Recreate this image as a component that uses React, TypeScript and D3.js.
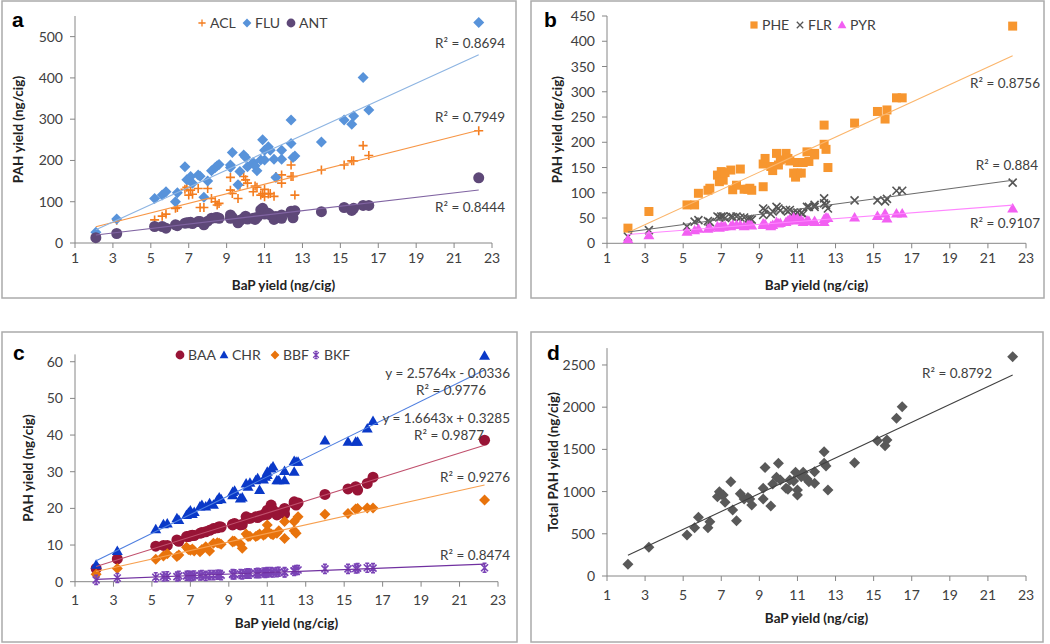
import React from 'react';
import * as d3 from 'd3';

// BaP yield per cigarette brand (shared x values)
const bap = [2.1, 3.2, 5.2, 5.6, 5.8, 6.3, 6.4, 6.8, 6.9, 7.0, 7.1, 7.2, 7.5, 7.6, 7.8, 8.0, 8.2, 8.4, 8.5, 8.6,
  9.2, 9.2, 9.3, 9.6, 9.7, 9.9, 10.0, 10.1, 10.4, 10.5, 10.6, 10.8, 10.9, 11.0, 11.0, 11.2, 11.3, 11.5, 11.6, 11.9,
  11.9, 12.4, 12.4, 12.5, 12.6, 14.0, 15.2, 15.6, 15.7, 16.2, 16.5, 22.3];

// panel a
const acl = [18, 55, 56, 65, 70, 84, 86, 130, 135, 116, 128, 118, 132, 86, 86, 132, 108, 100, 92, 96,
  159, 128, 120, 108, 140, 161, 153, 145, 124, 138, 135, 116, 120, 130, 112, 119, 120, 113, 161, 145,
  165, 189, 161, 161, 116, 177, 189, 199, 199, 236, 212, 272];
const flu = [26, 58, 108, 116, 124, 100, 122, 185, 153, 154, 161, 145, 165, 162, 111, 150, 175, 183, 187, 190,
  183, 189, 219, 141, 173, 213, 208, 185, 195, 187, 175, 201, 250, 225, 201, 233, 225, 203, 159, 203,
  225, 298, 241, 207, 211, 245, 298, 288, 308, 401, 322, 534];
const ant = [13, 23, 40, 40, 36, 44, 42, 48, 49, 49, 50, 47, 52, 52, 44, 53, 60, 61, 62, 60,
  68, 60, 62, 49, 55, 60, 65, 58, 60, 57, 62, 80, 84, 76, 70, 72, 68, 57, 64, 68,
  60, 77, 72, 61, 78, 76, 86, 79, 84, 91, 91, 158];

// panel b
const phe = [30, 63, 76, 76, 99, 105, 109, 135, 122, 142, 125, 140, 145, 106, 115, 147, 107, 107, 109, 105,
  157, 112, 168, 152, 144, 178, 155, 165, 178, 168, 163, 139, 131, 139, 160, 139, 160, 181, 162, 178,
  175, 234, 196, 186, 150, 238, 261, 246, 264, 288, 288, 430];
const flr = [13, 26, 33, 43, 46, 44, 42, 53, 51, 53, 53, 50, 53, 52, 53, 51, 51, 48, 48, 47,
  56, 69, 66, 58, 63, 72, 69, 65, 66, 63, 66, 61, 57, 60, 61, 60, 58, 72, 72, 76,
  72, 89, 79, 76, 69, 85, 85, 83, 88, 104, 104, 120];
const pyr = [8, 16, 23, 26, 29, 29, 31, 34, 31, 34, 33, 34, 34, 36, 36, 36, 34, 36, 36, 35,
  36, 39, 38, 34, 36, 42, 39, 40, 42, 45, 48, 51, 45, 48, 49, 46, 42, 45, 44, 42,
  44, 42, 48, 51, 50, 51, 54, 59, 49, 59, 59, 69];

// panel c
const baa = [3.6, 6.2, 9.7, 9.9, 9.9, 11.4, 11.0, 12.3, 12.3, 12.5, 12.7, 12.6, 13.2, 13.4, 13.6, 14.0, 14.5, 14.7, 15.0, 14.9,
  15.5, 15.7, 15.9, 15.5, 15.6, 17.7, 17.3, 17.3, 17.7, 17.5, 17.9, 18.2, 18.6, 19.5, 18.3, 20.9, 19.5, 18.2, 18.8, 20.0,
  18.5, 21.8, 21.4, 20.9, 21.5, 23.8, 25.3, 25.9, 25.0, 26.8, 28.5, 38.6];
const chr = [4.6, 8.4, 14.3, 15.7, 15.9, 17.3, 16.8, 18.2, 18.8, 19.4, 18.5, 19.0, 20.5, 20.9, 20.5, 21.4, 21.0, 22.3, 23.0, 22.5,
  24.5, 23.6, 24.8, 22.7, 23.0, 26.8, 25.9, 27.0, 27.7, 28.2, 25.0, 27.9, 28.6, 29.1, 30.0, 30.9, 31.4, 27.7, 27.7, 30.2,
  27.7, 32.9, 30.0, 32.7, 32.7, 38.5, 38.2, 38.2, 38.2, 41.8, 43.8, 61.6];
const bbf = [2.0, 3.6, 6.1, 7.0, 7.6, 6.9, 7.3, 9.4, 8.8, 8.6, 8.9, 8.4, 8.2, 8.8, 9.5, 8.4, 10.5, 10.6, 10.5, 10.2,
  11.1, 10.8, 11.0, 10.3, 9.1, 13.0, 12.3, 12.4, 12.3, 12.6, 13.0, 12.7, 13.0, 15.5, 13.9, 13.0, 12.8, 13.2, 13.9, 16.4,
  11.8, 16.4, 13.9, 13.2, 17.7, 18.4, 18.6, 19.8, 20.0, 20.1, 20.1, 22.3];
const bkf = [0.5, 1.0, 1.2, 1.4, 1.5, 1.4, 1.6, 1.6, 1.7, 1.5, 1.6, 1.7, 1.7, 1.8, 1.6, 1.8, 1.8, 1.9, 1.9, 1.8,
  2.0, 2.1, 2.0, 2.1, 2.0, 2.2, 2.3, 2.2, 2.3, 2.4, 2.3, 2.5, 2.4, 2.6, 2.5, 2.6, 2.5, 2.6, 2.7, 2.5,
  2.6, 2.9, 3.0, 3.2, 3.2, 3.5, 3.5, 3.6, 3.7, 3.8, 3.7, 3.8];

// panel d
const total = [139, 340, 486, 573, 696, 573, 644, 940, 999, 965, 960, 873, 1118, 782, 655, 975, 912, 930, 912, 841,
  1039, 912, 1284, 830, 1090, 1170, 1335, 1138, 1039, 1027, 1138, 1126, 1229, 1019, 960, 1177, 1229, 1150, 1118, 1236,
  1098, 1473, 1335, 1303, 1019, 1343, 1603, 1544, 1611, 1869, 2006, 2599];

const xTicks = [1, 3, 5, 7, 9, 11, 13, 15, 17, 19, 21, 23];
const yTicksA = [0, 100, 200, 300, 400, 500];
const yTicksB = [0, 50, 100, 150, 200, 250, 300, 350, 400, 450];
const yTicksC = [0, 10, 20, 30, 40, 50, 60];
const yTicksD = [0, 500, 1000, 1500, 2000, 2500];

const font = "Lato, 'Open Sans', sans-serif";
const txt = '#404040';
const axisCol = '#868686';

const shapes: Record<string, string> = {
  plus: 'M-4.5,0H4.5M0,-4.5V4.5',
  cross: 'M-4,-4L4,4M-4,4L4,-4',
  star: 'M-3.5,-3.5L3.5,3.5M-3.5,3.5L3.5,-3.5M0,-4.5V4.5M-2,-4.5H2M-2,4.5H2',
  diamond: 'M0,-5.5L5.5,0L0,5.5L-5.5,0Z',
  square: 'M-4.5,-4.5H4.5V4.5H-4.5Z',
  triangle: 'M0,-5.5L5.5,4L-5.5,4Z',
};

function Marker({ shape, x, y, color }: any) {
  if (shape === 'circle') return <circle cx={x} cy={y} r={5.5} fill={color} />;
  const stroked = shape === 'plus' || shape === 'cross' || shape === 'star';
  return (
    <path d={shapes[shape]} transform={`translate(${x},${y})`}
      fill={stroked ? 'none' : color} stroke={stroked ? color : 'none'} strokeWidth={1.6} />
  );
}

function fit(xs: number[], ys: number[]) {
  const mx = d3.mean(xs)!, my = d3.mean(ys)!;
  let sxy = 0, sxx = 0;
  xs.forEach((v, i) => { sxy += (v - mx) * (ys[i] - my); sxx += (v - mx) ** 2; });
  const b = sxy / sxx;
  return (v: number) => my - b * mx + b * v;
}

const panels = [
  {
    letter: 'a', lx: 12, ly: 27, box: [2, 1, 514, 297],
    xr: [75, 492], yr: [243, 16], ydom: [0, 550], yTicks: yTicksA,
    xLabY: 263, xTitleY: 290, yTitleX: 18, yTitle: 'PAH yield (ng/cig)',
    series: [
      { name: 'ACL', ys: acl, shape: 'plus', color: '#f47d1f', line: '#f79646', lg: 202 },
      { name: 'FLU', ys: flu, shape: 'diamond', color: '#5893da', line: '#8db4e2', lg: 247 },
      { name: 'ANT', ys: ant, shape: 'circle', color: '#5e4878', line: '#8064a2', lg: 291 },
    ],
    legY: 23,
    notes: [['R² = 0.8694', 505, 48], ['R² = 0.7949', 505, 122], ['R² = 0.8444', 505, 212]],
  },
  {
    letter: 'b', lx: 544, ly: 27, box: [531, 1, 513, 297],
    xr: [607, 1026], yr: [243.3, 16], ydom: [0, 450], yTicks: yTicksB,
    xLabY: 263, xTitleY: 290, yTitleX: 557, yTitle: 'PAH yield (ng/cig)',
    series: [
      { name: 'PHE', ys: phe, shape: 'square', color: '#f7962f', line: '#fbb56b', lg: 754 },
      { name: 'FLR', ys: flr, shape: 'cross', color: '#555555', line: '#6b6b6b', lg: 800 },
      { name: 'PYR', ys: pyr, shape: 'triangle', color: '#f25ff2', line: '#ff86ff', lg: 842 },
    ],
    legY: 25,
    notes: [['R² = 0.8756', 1040, 88], ['R² = 0.884', 1038, 170], ['R² = 0.9107', 1040, 228]],
  },
  {
    letter: 'c', lx: 13, ly: 360, box: [2, 332, 515, 310],
    xr: [75, 498], yr: [581.7, 354.4], ydom: [0, 62], yTicks: yTicksC,
    xLabY: 605, xTitleY: 628, yTitleX: 28, yTitle: 'PAH yield (ng/cig)',
    series: [
      { name: 'BAA', ys: baa, shape: 'circle', color: '#981436', line: '#c0506d', lg: 180 },
      { name: 'CHR', ys: chr, shape: 'triangle', color: '#0a39c8', line: '#4f7fe0', lg: 224 },
      { name: 'BBF', ys: bbf, shape: 'diamond', color: '#e8730c', line: '#f7a050', lg: 275 },
      { name: 'BKF', ys: bkf, shape: 'star', color: '#7a43b6', line: '#7030a0', lg: 316 },
    ],
    legY: 355,
    notes: [['y = 2.5764x - 0.0336', 510, 378], ['R² = 0.9776', 486, 395], ['y = 1.6643x + 0.3285', 510, 423],
      ['R² = 0.9877', 484, 440], ['R² = 0.9276', 510, 482], ['R² = 0.8474', 510, 560]],
  },
  {
    letter: 'd', lx: 547, ly: 360, box: [531, 332, 512, 310],
    xr: [607, 1026], yr: [576, 348.1], ydom: [0, 2700], yTicks: yTicksD,
    xLabY: 600, xTitleY: 623, yTitleX: 553, yTitle: 'Total PAH yield (ng/cig)',
    series: [
      { name: 'Total', ys: total, shape: 'diamond', color: '#595959', line: '#404040', lg: null },
    ],
    legY: 0,
    notes: [['R² = 0.8792', 992, 378]],
  },
];

function Panel({ p }: any) {
  const x = d3.scaleLinear().domain([1, 23]).range(p.xr);
  const y = d3.scaleLinear().domain(p.ydom).range(p.yr);
  const [bx, by, bw, bh] = p.box;
  const x0 = d3.min(bap)!, x1 = d3.max(bap)!;
  return (
    <g>
      <rect x={bx} y={by} width={bw} height={bh} fill="#fff" stroke="#ababab" strokeWidth={1.5} />
      <text x={p.lx} y={p.ly} fontFamily="'Liberation Sans', Arial, sans-serif" fontWeight="bold" fontSize={21} fill="#000">{p.letter}</text>
      {/* axes */}
      <line x1={p.xr[0]} x2={p.xr[1]} y1={p.yr[0]} y2={p.yr[0]} stroke={axisCol} />
      <line x1={p.xr[0]} x2={p.xr[0]} y1={p.yr[0]} y2={p.yr[1]} stroke={axisCol} />
      {xTicks.map(t => (
        <g key={'x' + t}>
          <line x1={x(t)} x2={x(t)} y1={p.yr[0]} y2={p.yr[0] + 5} stroke={axisCol} />
          <text x={x(t)} y={p.xLabY} textAnchor="middle" fontFamily={font} fontSize={14} fill={txt}>{t}</text>
        </g>
      ))}
      {p.yTicks.map((t: number) => (
        <g key={'y' + t}>
          <line x1={p.xr[0] - 5} x2={p.xr[0]} y1={y(t)} y2={y(t)} stroke={axisCol} />
          <text x={p.xr[0] - 12} y={y(t)} dy="0.36em" textAnchor="end" fontFamily={font} fontSize={14} fill={txt}>{t}</text>
        </g>
      ))}
      <text x={(p.xr[0] + p.xr[1]) / 2} y={p.xTitleY} textAnchor="middle" fontFamily={font} fontWeight="bold" fontSize={13.5} fill="#222">BaP yield (ng/cig)</text>
      <text transform={`translate(${p.yTitleX},${(p.yr[0] + p.yr[1]) / 2}) rotate(-90)`} dy="0.35em" textAnchor="middle"
        fontFamily={font} fontWeight="bold" fontSize={13.5} fill="#222">{p.yTitle}</text>
      {/* markers */}
      {p.series.map((s: any) => (
        <g key={s.name}>
          {s.ys.map((v: number, i: number) => <Marker key={i} shape={s.shape} x={x(bap[i])} y={y(v)} color={s.color} />)}
        </g>
      ))}
      {/* trend lines */}
      {p.series.map((s: any) => {
        const f = fit(bap, s.ys);
        return <line key={'t' + s.name} x1={x(x0)} y1={y(f(x0))} x2={x(x1)} y2={y(f(x1))} stroke={s.line} strokeWidth={1.1} />;
      })}
      {/* legend */}
      {p.series.filter((s: any) => s.lg != null).map((s: any) => (
        <g key={'l' + s.name}>
          <g transform={`translate(${s.lg},${p.legY}) scale(0.8)`}><Marker shape={s.shape} x={0} y={0} color={s.color} /></g>
          <text x={s.lg + 8} y={p.legY} dy="0.36em" fontFamily={font} fontSize={14} fill={txt}>{s.name}</text>
        </g>
      ))}
      {p.notes.map((n: any) => (
        <text key={n[0]} x={n[1]} y={n[2]} textAnchor="end" fontFamily={font} fontSize={13.5} fill={txt}>{n[0]}</text>
      ))}
    </g>
  );
}

export default function App() {
  return (
    <svg width={1050} height={644} style={{ position: 'absolute', left: 0, top: 0, background: '#fff' }}>
      {panels.map(p => <Panel key={p.letter} p={p} />)}
    </svg>
  );
}
